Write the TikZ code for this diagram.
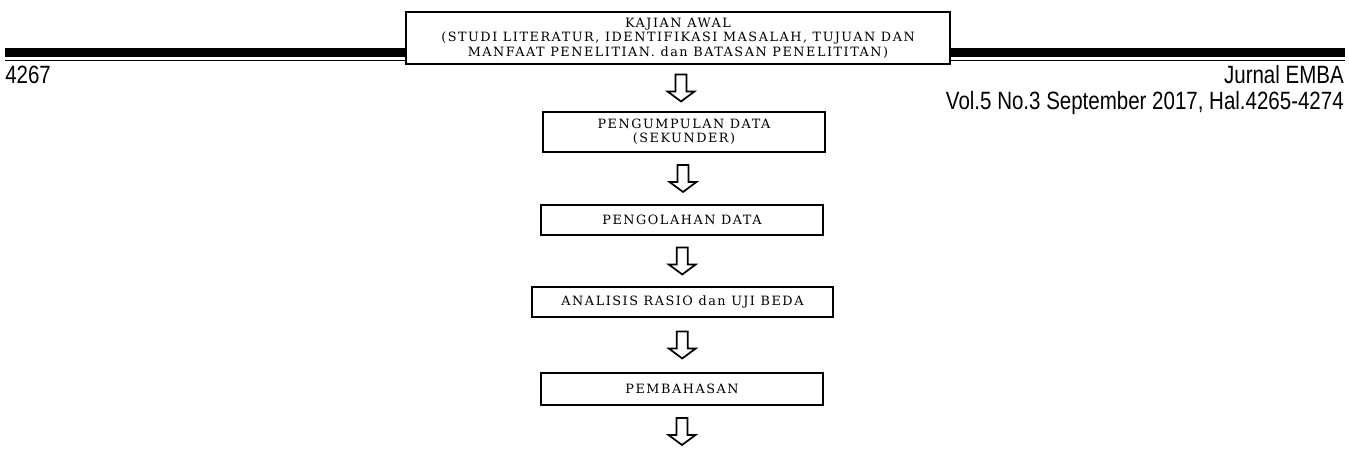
\documentclass[tikz,border=0pt]{standalone}
\usepackage{fontspec}
\usetikzlibrary{calc}
\newfontfamily\hdrfont[FakeStretch=0.82]{Liberation Sans}
\newfontfamily\boxfont[LetterSpace=12]{DejaVu Serif}

\begin{document}
\begin{tikzpicture}[x=0.75pt,y=-0.75pt,
   stepbox/.style={draw,shape=rectangle,line width=1.5pt,fill=white,inner sep=0pt,
     align=center,font=\boxfont\fontsize{9.6pt}{10.8pt}\selectfont},
   hdr/.style={inner sep=0pt,font=\hdrfont\fontsize{18.75pt}{22pt}\selectfont},
   hollowarrow/.style={line width=1.3pt,line join=miter,
     to path={let \p1=(\tikztostart.south), \p2=(\tikztotarget.north),
       \p3=($(\p1)!0.5!(\p2)$) in
       (\x3-4.1pt,\y3+10.1pt) -- (\x3-4.1pt,\y3-2.6pt) -- (\x3-10.1pt,\y3-2.6pt)
       -- (\x3,\y3-10.1pt) -- (\x3+10.1pt,\y3-2.6pt) -- (\x3+4.1pt,\y3-2.6pt)
       -- (\x3+4.1pt,\y3+10.1pt) -- cycle}}]
   \useasboundingbox (0,0) rectangle (1349,456);
   % garis kepala halaman
   \draw[line width=6.75pt] (5,52.5) -- (1345,52.5);
   \draw[line width=1.1pt] (5,60.5) -- (1345,60.5);
   \path (5,84) node[hdr,anchor=base west] (hal) {4267};
   \path (1344,84) node[hdr,anchor=base east] (jurnal) {Jurnal EMBA};
   \path (1344,110) node[hdr,anchor=base east] (vol) {Vol.5 No.3 September 2017, Hal.4265-4274};
   % tahapan
   \path (678,38) node[stepbox,minimum width=408pt,minimum height=39pt] (awal)
   {KAJIAN AWAL\\(STUDI LITERATUR, IDENTIFIKASI MASALAH, TUJUAN DAN\\MANFAAT PENELITIAN. dan BATASAN PENELITITAN)};
   \path (684,132) node[stepbox,minimum width=211.5pt,minimum height=30pt] (kumpul)
   {PENGUMPULAN DATA\\(SEKUNDER)};
   \path (682,220) node[stepbox,minimum width=211.5pt,minimum height=22.5pt] (olah)
   {PENGOLAHAN DATA};
   \path (682.5,302) node[stepbox,minimum width=225.75pt,minimum height=22.5pt] (analisis)
   {ANALISIS RASIO dan UJI BEDA};
   \path (682,389) node[stepbox,minimum width=211.5pt,minimum height=24pt] (bahas)
   {PEMBAHASAN};
   \path (682,458) node[inner sep=0pt] (ujung) {};
   % panah
   \draw[hollowarrow] (awal) to (kumpul);
   \draw[hollowarrow] (kumpul) to (olah);
   \draw[hollowarrow] (olah) to (analisis);
   \draw[hollowarrow] (analisis) to (bahas);
   \draw[hollowarrow] (bahas) to (ujung);
\end{tikzpicture}
\end{document}
